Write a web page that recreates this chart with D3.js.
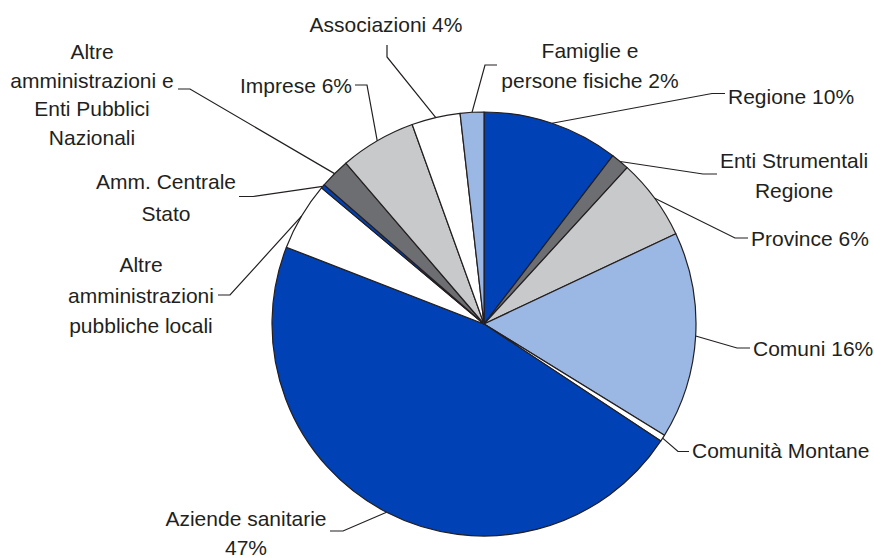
<!DOCTYPE html>
<html>
<head>
<meta charset="utf-8">
<script src="https://cdn.jsdelivr.net/npm/d3@7/dist/d3.min.js"></script>
<style>
  html, body { margin: 0; padding: 0; background: #ffffff; }
  svg { display: block; }
  text { font-family: "Liberation Sans", Arial, Helvetica, sans-serif; font-size: 21px; fill: #231f20; }
</style>
</head>
<body>
<svg id="chart" width="874" height="558"></svg>
<script>
// Slice categories, clockwise from 12 o'clock
const categories = [
  "Regione",
  "Enti Strumentali Regione",
  "Province",
  "Comuni",
  "Comunità Montane",
  "Aziende sanitarie",
  "Altre amministrazioni pubbliche locali",
  "Amm. Centrale Stato",
  "Altre amministrazioni e Enti Pubblici Nazionali",
  "Imprese",
  "Associazioni",
  "Famiglie e persone fisiche"
];

// Share of each category (percent)
const shares = [10.4, 1.4, 6.2, 15.8, 0.5, 46.6, 5.2, 0.3, 2.3, 5.8, 3.7, 1.8];

// Label lines per slice; {p} is replaced by the rounded share
const labelLines = [
  ["Regione {p}"],
  ["Enti Strumentali", "Regione"],
  ["Province {p}"],
  ["Comuni {p}"],
  ["Comunità Montane"],
  ["Aziende sanitarie", "{p}"],
  ["Altre", "amministrazioni", "pubbliche locali"],
  ["Amm. Centrale", "Stato"],
  ["Altre", "amministrazioni e", "Enti Pubblici", "Nazionali"],
  ["Imprese {p}"],
  ["Associazioni {p}"],
  ["Famiglie e", "persone fisiche {p}"]
];

// Fill per slice
const fills = ["#0042b6", "#6d6e71", "#c8c9cb", "#9bb7e4", "#ffffff", "#0042b6",
               "#ffffff", "#0042b6", "#6d6e71", "#c8c9cb", "#ffffff", "#9bb7e4"];

// Label placement: text anchor point, first baseline, leader elbow and end
const labelLayout = [
  { x: 728, y: 104, anchor: "start",  elbow: [712, 93.5], end: [725, 93.5] },
  { x: 794, y: 168, anchor: "middle", elbow: [703, 174],  end: [717, 174] },
  { x: 751, y: 246, anchor: "start",  elbow: [735, 238],  end: [748, 238] },
  { x: 753, y: 356, anchor: "start",  elbow: [737, 348],  end: [750, 348] },
  { x: 692, y: 458, anchor: "start",  elbow: [678, 451.5],end: [689, 451.5] },
  { x: 246, y: 526, anchor: "middle", elbow: [343, 531],  end: [330, 531] },
  { x: 141, y: 272, anchor: "middle", elbow: [230, 295],  end: [218, 295] },
  { x: 166, y: 189, anchor: "middle", elbow: [253, 196.5],end: [239, 196.5] },
  { x: 92,  y: 59,  anchor: "middle", elbow: [190, 89],   end: [178, 89] },
  { x: 352, y: 93,  anchor: "end",    elbow: [367, 85],   end: [355, 85] },
  { x: 386, y: 32,  anchor: "middle", elbow: [387, 57],   end: [387, 45] },
  { x: 590, y: 58,  anchor: "middle", elbow: [485, 65],   end: [497, 65] }
];

const lineHeights = [30, 30, 30, 30, 30, 28.5, 30.5, 32, 28.6, 30, 30, 30];

const svg = d3.select("#chart");
const cx = 484, cy = 324, radius = 212;

const data = categories.map((c, i) => ({ name: c, value: shares[i], index: i }));

const pie = d3.pie()
  .value(d => d.value)
  .sort(null)
  .startAngle(0)
  .endAngle(2 * Math.PI);

const arc = d3.arc().innerRadius(0).outerRadius(radius);
const edgeArc = d3.arc().innerRadius(radius).outerRadius(radius);

const arcs = pie(data);

const g = svg.append("g").attr("transform", `translate(${cx},${cy})`);

g.selectAll("path.slice")
  .data(arcs)
  .join("path")
  .attr("class", "slice")
  .attr("d", arc)
  .attr("fill", d => fills[d.data.index])
  .attr("stroke", "#231f20")
  .attr("stroke-width", 1.2)
  .attr("stroke-linejoin", "round");

// Leader lines from the middle of each slice's rim to its label
const line = d3.line();
svg.selectAll("path.leader")
  .data(arcs)
  .join("path")
  .attr("class", "leader")
  .attr("fill", "none")
  .attr("stroke", "#231f20")
  .attr("stroke-width", 1.2)
  .attr("d", d => {
    const p = edgeArc.centroid(d);
    const L = labelLayout[d.data.index];
    return line([[cx + p[0], cy + p[1]], L.elbow, L.end]);
  });

// Labels
const pct = v => Math.round(v) + "%";
const labels = svg.selectAll("text.label")
  .data(arcs)
  .join("text")
  .attr("class", "label")
  .attr("text-anchor", d => labelLayout[d.data.index].anchor)
  .attr("x", d => labelLayout[d.data.index].x)
  .attr("y", d => labelLayout[d.data.index].y);

labels.each(function(d) {
  const i = d.data.index;
  const L = labelLayout[i];
  d3.select(this).selectAll("tspan")
    .data(labelLines[i])
    .join("tspan")
    .attr("x", L.x)
    .attr("dy", (t, k) => k === 0 ? 0 : lineHeights[i])
    .text(t => t.replace("{p}", pct(d.data.value)));
});
</script>
</body>
</html>
